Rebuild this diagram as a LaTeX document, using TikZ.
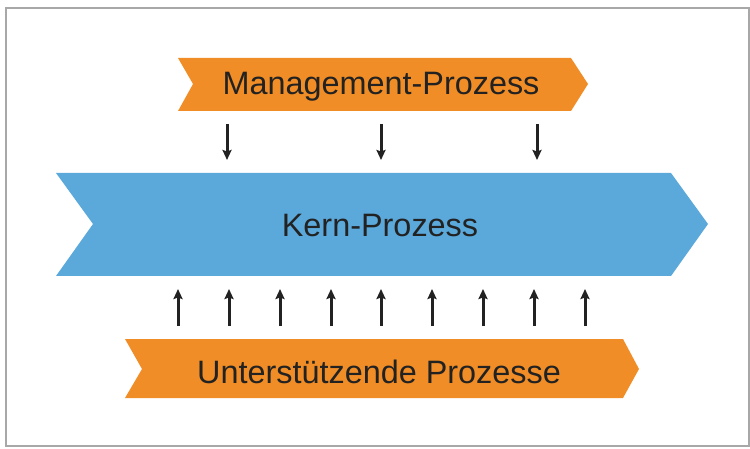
\documentclass[tikz,border=0pt]{standalone}
\usepackage{fontspec}
\setmainfont{Liberation Sans}
\usetikzlibrary{arrows.meta}
\definecolor{procorange}{HTML}{F18D26}
\definecolor{procblue}{HTML}{5BA8DA}
\definecolor{inkgray}{HTML}{222222}
\definecolor{framegray}{HTML}{A8A8A8}
\begin{document}
\begin{tikzpicture}[x=1pt,y=-1pt,
  label/.style={font=\fontsize{32.4}{36}\selectfont, text=inkgray, inner sep=0pt, anchor=base},
  flow/.style={draw=inkgray, line width=3pt, -{Stealth[length=10pt,width=9pt,inset=1.5pt]}}]
\useasboundingbox (0,0) rectangle (750,449);
% outer frame
\draw[framegray, line width=1.6pt] (6,8) rectangle (749,446);
% process chevrons
\fill[procorange] (178,58) -- (571,58) -- (588,84) -- (571,111) -- (178,111) -- (193,84) -- cycle;
\fill[procblue] (56,173) -- (671,173) -- (708,224) -- (671,276) -- (56,276) -- (93,224) -- cycle;
\fill[procorange] (125,339) -- (623,339) -- (639,369) -- (623,398) -- (125,398) -- (142,369) -- cycle;
% labels
\node[label] (mgmt) at (381,95) {Management-Prozess};
\node[label] (kern) at (380,237) {Kern-Prozess};
\node[label] (support) at (379,383) {Unterstützende Prozesse};
% management -> core
\foreach \i/\x in {1/227,2/381,3/537} {
  \coordinate (m\i) at (\x,124);
  \coordinate (k\i) at (\x,160);
  \draw[flow] (m\i) -- (k\i);
}
% support -> core
\foreach \i/\x in {1/178,2/229,3/280,4/331,5/381,6/432,7/483,8/534,9/585} {
  \coordinate (s\i) at (\x,326);
  \coordinate (c\i) at (\x,289);
  \draw[flow] (s\i) -- (c\i);
}
\end{tikzpicture}
\end{document}
